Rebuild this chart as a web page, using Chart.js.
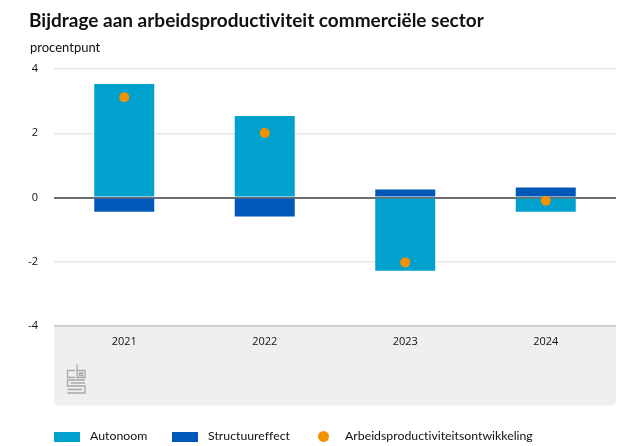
<!DOCTYPE html>
<html>
<head>
<meta charset="utf-8">
<script src="https://cdn.jsdelivr.net/npm/chart.js@4/dist/chart.umd.min.js"></script>
<style>
  html, body { margin: 0; padding: 0; background: #fff; }
  body { width: 626px; height: 446px; position: relative; overflow: hidden; font-family: Lato, "Noto Sans", sans-serif; color: #111; font-variant-ligatures: none; }
  #title { position: absolute; left: 29px; top: 7px; font-weight: bold; font-size: 19px; line-height: 26px; white-space: nowrap; }
  #unit { position: absolute; left: 30px; top: 38px; font-size: 13px; line-height: 18px; }
  #wrap { position: absolute; left: 0; top: 0; width: 626px; height: 446px; }
  .lg { position: absolute; top: 428px; height: 16px; line-height: 16px; font-size: 12.3px; white-space: nowrap; }
  .sw { position: absolute; top: 432px; width: 26px; height: 10px; }
  .dot { position: absolute; top: 431px; width: 11px; height: 11px; border-radius: 50%; }
</style>
</head>
<body>
<div id="wrap"><canvas id="c" width="626" height="446"></canvas></div>
<div id="title">Bijdrage aan arbeidsproductiviteit commerciële sector</div>
<div id="unit">procentpunt</div>
<div id="legend"></div>
<script>
const categories = ["2021", "2022", "2023", "2024"];
const autonoom = [3.53, 2.54, -2.28, -0.44];
const structuureffect = [-0.44, -0.59, 0.25, 0.31];
const arbeidsproductiviteit = [3.12, 2.01, -2.02, -0.10];
const yTicks = [4, 2, 0, -2, -4];
const seriesNames = ["Autonoom", "Structuureffect", "Arbeidsproductiviteitsontwikkeling"];
const seriesColors = ["#00a1cd", "#0058b8", "#f39200"];

const bgPlugin = {
  id: 'bg',
  beforeDraw(chart) {
    const ctx = chart.ctx, a = chart.chartArea;
    const top = a.bottom, bottom = 405.5, left = a.left, right = a.right, r = 5;
    ctx.save();
    ctx.fillStyle = '#efefef';
    ctx.beginPath();
    ctx.moveTo(left, top);
    ctx.lineTo(right, top);
    ctx.lineTo(right, bottom - r);
    ctx.quadraticCurveTo(right, bottom, right - r, bottom);
    ctx.lineTo(left + r, bottom);
    ctx.quadraticCurveTo(left, bottom, left, bottom - r);
    ctx.closePath();
    ctx.fill();
    // CBS logo (simplified)
    ctx.strokeStyle = '#a8a8a8';
    ctx.lineWidth = 1.3;
    const x0 = 67.5, y0 = 364.5;
    ctx.beginPath();
    ctx.moveTo(75, y0 + 6); ctx.lineTo(x0, y0 + 6); ctx.lineTo(x0, y0 + 13); ctx.lineTo(75, y0 + 13);
    ctx.moveTo(77, y0); ctx.lineTo(77, y0 + 13); ctx.lineTo(85, y0 + 13); ctx.lineTo(85, y0 + 6); ctx.lineTo(77, y0 + 6);
    ctx.rect(79.5, y0 + 8.5, 3, 2.5);
    ctx.moveTo(85, y0 + 15.5); ctx.lineTo(x0, y0 + 15.5); ctx.lineTo(x0, y0 + 21.5); ctx.lineTo(85, y0 + 21.5); ctx.lineTo(85, y0 + 28.5); ctx.lineTo(x0, y0 + 28.5);
    ctx.moveTo(85, y0 + 18.5); ctx.lineTo(70.5, y0 + 18.5);
    ctx.moveTo(x0, y0 + 25); ctx.lineTo(82, y0 + 25);
    ctx.stroke();
    ctx.restore();
  }
};

new Chart(document.getElementById('c'), {
  data: {
    labels: categories,
    datasets: [
      { type: 'line', label: seriesNames[2], data: arbeidsproductiviteit, showLine: false,
        pointRadius: 5, pointHoverRadius: 5, pointBackgroundColor: seriesColors[2], pointBorderWidth: 0, order: 0 },
      { type: 'bar', label: seriesNames[0], data: autonoom, backgroundColor: seriesColors[0], stack: 's', order: 1,
        barPercentage: 0.427, categoryPercentage: 1 },
      { type: 'bar', label: seriesNames[1], data: structuureffect, backgroundColor: seriesColors[1], stack: 's', order: 1,
        barPercentage: 0.427, categoryPercentage: 1 }
    ]
  },
  options: {
    responsive: false,
    animation: false,
    layout: { padding: { top: 69, right: 10, bottom: 40, left: 0 } },
    plugins: { legend: { display: false }, tooltip: { enabled: false }, title: { display: false } },
    scales: {
      x: {
        stacked: true,
        grid: { display: false, drawTicks: false },
        border: { display: false },
        ticks: { padding: 9, color: '#111', font: { family: 'Open Sans', size: 11 } },
        afterFit(s) { s.height = 80; }
      },
      y: {
        stacked: true,
        min: -4, max: 4,
        afterBuildTicks(s) { s.ticks = yTicks.map(v => ({ value: v })); },
        grid: {
          drawTicks: false,
          color: c => c.tick && c.tick.value === 0 ? '#6e6e6e' : (c.tick && c.tick.value === -4 ? '#d0d0d0' : '#e6e6e6'),
          lineWidth: c => c.tick && c.tick.value === 0 ? 2 : (c.tick && c.tick.value === -4 ? 2 : 1.5)
        },
        border: { display: false },
        ticks: { padding: 16, color: '#111', font: { family: 'Open Sans', size: 11 } },
        afterFit(s) { s.width = 54; }
      }
    }
  },
  plugins: [bgPlugin]
});

const lg = document.getElementById('legend');
const markX = [54, 172, 318];
const textX = [90, 208, 345];
[0, 1, 2].forEach(i => {
  const m = document.createElement('span');
  m.className = i === 2 ? 'dot' : 'sw';
  m.style.background = seriesColors[i];
  m.style.left = markX[i] + 'px';
  const t = document.createElement('span');
  t.className = 'lg';
  t.style.left = textX[i] + 'px';
  t.textContent = seriesNames[i];
  lg.appendChild(m); lg.appendChild(t);
});
</script>
</body>
</html>
